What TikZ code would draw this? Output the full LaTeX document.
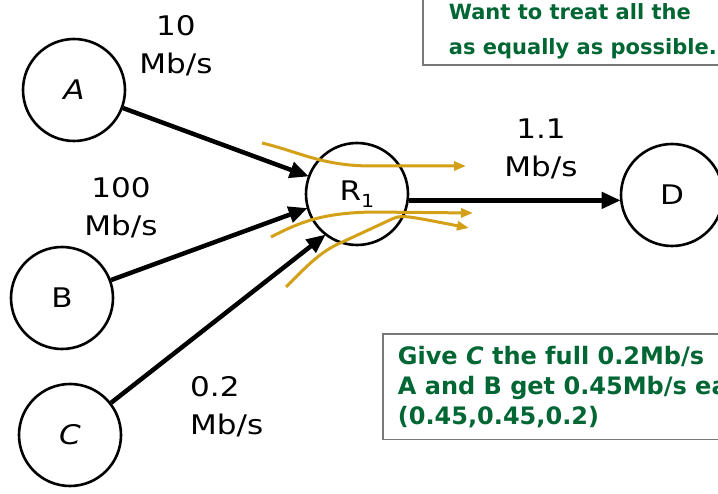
\documentclass[tikz,border=0pt]{standalone}
\usepackage{fontspec}
\setmainfont{DejaVu Sans}[FakeStretch=1.15]
\newfontfamily\notefont{DejaVu Sans}
\usepackage{tikz}
\usetikzlibrary{positioning,arrows.meta}
\definecolor{notegreen}{RGB}{0,102,51}
\definecolor{flowgold}{RGB}{212,160,23}
\definecolor{boxgray}{RGB}{120,120,120}

\begin{document}
\begin{tikzpicture}[
  x=1pt, y=-1pt,
  host/.style={draw, circle, line width=2.6pt, minimum size=102pt, inner sep=0pt,
               font=\fontsize{27}{38}\selectfont},
  rate/.style={font=\fontsize{27}{38}\selectfont, align=center, inner sep=0pt},
  note/.style={draw=boxgray, line width=1.6pt, fill=white, text=notegreen, align=left,
               inner xsep=10pt},
  link/.style={line width=4.5pt, -{Triangle[length=19pt,width=16pt]}, shorten >=-1pt},
  flow/.style={draw=flowgold, line width=3pt, -{Triangle[length=12pt,width=9pt]}},
]
\clip (0,0) rectangle (718,494);
\fill[white] (0,0) rectangle (718,494);

%% ── HOSTS AND ROUTER ────────────────────────────────────────────────────────
\node[host] (A)  at (74,90)   {\itshape A};
\node[host] (B)  at (62,298)  {B};
\node[host] (C)  at (70,435)  {\itshape C};
\node[host] (R1) at (357,194) {R\raisebox{-7pt}{\fontsize{18}{18}\selectfont 1}};
\node[host] (D)  at (672,195) {D};

%% ── LINKS ───────────────────────────────────────────────────────────────────
\draw[link] (A)  -- (R1.160);
\draw[link] (B)  -- (R1.196);
\draw[link] (C)  -- (R1.232);
\draw[link] (R1.-7) -- (D.west |- R1.-7);

%% ── RATE LABELS ─────────────────────────────────────────────────────────────
\node[rate] (rA) at (176,46)  {10\\Mb/s};
\node[rate] (rB) at (121,208) {100\\Mb/s};
\node[rate, align=left, anchor=west] (rC) at (190,407) {0.2\\Mb/s};
\node[rate] (rD) at (541,149) {1.1\\Mb/s};

%% ── FLOWS THROUGH R1 (gold) ─────────────────────────────────────────────────
\coordinate (fa0) at (262,143); \coordinate (fa1) at (466,166);
\coordinate (fb0) at (271,237); \coordinate (fb1) at (473,213);
\coordinate (fc0) at (286,287); \coordinate (fc1) at (469,228);
\draw[flow] (fa0) .. controls (300,152) and (322,166) .. (372,166) -- (fa1);
\draw[flow] (fb0) .. controls (300,222) and (322,213) .. (372,212) -- (fb1);
\draw[flow] (fc0) .. controls (305,268) and (318,254) .. (336,245)
            -- (392,219) .. controls (402,215) .. (fc1);

%% ── NOTES ───────────────────────────────────────────────────────────────────
\node[note, minimum width=320pt, inner ysep=6pt, anchor=south west,
      font=\notefont\bfseries\fontsize{21}{35}\selectfont] (goal) at (422,66)
  {Want to treat all the\\as equally as possible.};
\node[note, minimum width=360pt, inner ysep=12pt, anchor=north west,
      font=\notefont\bfseries\fontsize{24}{30}\selectfont] (alloc) at (382,333)
  {Give {\itshape C} the full 0.2Mb/s\\A and B get 0.45Mb/s ea\\(0.45,0.45,0.2)};
\end{tikzpicture}
\end{document}
